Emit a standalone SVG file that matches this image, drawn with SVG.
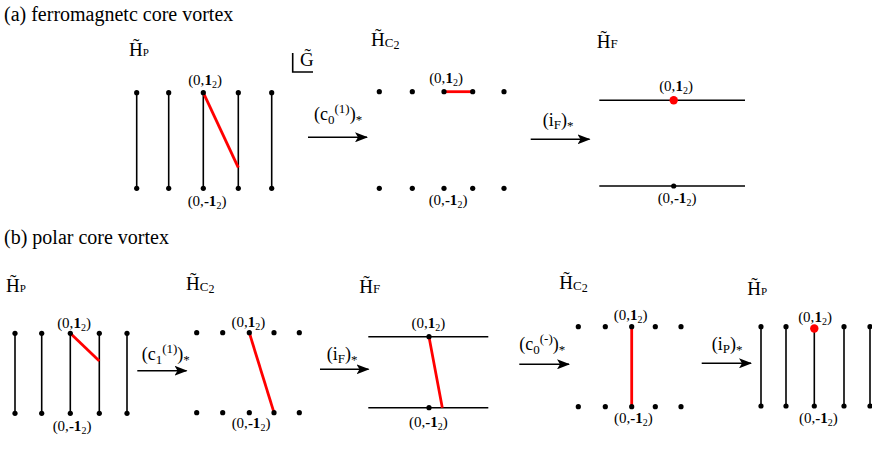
<svg xmlns="http://www.w3.org/2000/svg" width="872" height="458" viewBox="0 0 872 458" font-family="Liberation Serif, serif">
<defs>
<style>
.ln{stroke:#000;stroke-width:1.6;fill:none}
.red{stroke:#f00;stroke-width:2.8;fill:none}
.dot{fill:#000}
.arr{stroke:#000;stroke-width:1.6;fill:none;marker-end:url(#ah)}
</style>
<marker id="ah" markerUnits="userSpaceOnUse" markerWidth="14" markerHeight="10" refX="12" refY="5" orient="auto">
<path d="M0,0 L13,5 L0,10 L3,5 z" fill="#000"/>
</marker>
</defs>
<text font-family="Liberation Serif, serif" font-size="20" x="4" y="21">(a) ferromagnetc core vortex</text>
<text font-family="Liberation Serif, serif" font-size="20" x="4" y="244">(b) polar core vortex</text>

<g id="a-HP">
<text font-family="Liberation Serif, serif" font-size="19" x="129" y="56">H&#x0303;<tspan font-size="11">P</tspan></text>
<g class="ln">
<line x1="136.7" y1="92.7" x2="136.7" y2="188.3"/>
<line x1="168.7" y1="92.7" x2="168.7" y2="188.3"/>
<line x1="203.3" y1="92.7" x2="203.3" y2="188.3"/>
<line x1="238.3" y1="92.7" x2="238.3" y2="188.3"/>
<line x1="271.7" y1="92.7" x2="271.7" y2="188.3"/>
</g>
<line class="red" x1="203.3" y1="92.7" x2="238.3" y2="167.7"/>
<g class="dot">
<circle cx="136.7" cy="92.7" r="2.6"/><circle cx="168.7" cy="92.7" r="2.6"/><circle cx="203.3" cy="92.7" r="2.6"/><circle cx="238.3" cy="92.7" r="2.6"/><circle cx="271.7" cy="92.7" r="2.6"/>
<circle cx="136.7" cy="188.3" r="2.6"/><circle cx="168.7" cy="188.3" r="2.6"/><circle cx="203.3" cy="188.3" r="2.6"/><circle cx="238.3" cy="188.3" r="2.6"/><circle cx="271.7" cy="188.3" r="2.6"/>
</g>
<text font-family="Liberation Serif, serif" font-size="15" text-anchor="middle" x="205" y="85">(0,<tspan font-weight="bold">1</tspan><tspan font-size="10" dy="3">2</tspan><tspan dy="-3">)</tspan></text>
<text font-family="Liberation Serif, serif" font-size="15" text-anchor="middle" x="207" y="206">(0,<tspan font-weight="bold">-1</tspan><tspan font-size="10" dy="3">2</tspan><tspan dy="-3">)</tspan></text>
</g>

<g id="G">
<path class="ln" d="M292.7,53 V72 H313" stroke-width="1.3"/>
<text font-family="Liberation Serif, serif" font-size="19" x="300" y="66">G&#x0303;</text>
</g>

<g id="a-HC2">
<text font-family="Liberation Serif, serif" font-size="19" x="371" y="46">H&#x0303;<tspan font-size="13" dy="1">C</tspan><tspan font-size="12" dy="2">2</tspan></text>
<line class="red" x1="444" y1="91.7" x2="472.7" y2="91.7"/>
<g class="dot">
<circle cx="379.3" cy="91.7" r="2.6"/><circle cx="412.3" cy="91.7" r="2.6"/><circle cx="444" cy="91.7" r="2.6"/><circle cx="472.7" cy="91.7" r="2.6"/><circle cx="504" cy="91.7" r="2.6"/>
<circle cx="379.3" cy="188.3" r="2.6"/><circle cx="412.3" cy="188.3" r="2.6"/><circle cx="444" cy="188.3" r="2.6"/><circle cx="472.7" cy="188.3" r="2.6"/><circle cx="504" cy="188.3" r="2.6"/>
</g>
<text font-family="Liberation Serif, serif" font-size="15" text-anchor="middle" x="446" y="83">(0,<tspan font-weight="bold">1</tspan><tspan font-size="10" dy="3">2</tspan><tspan dy="-3">)</tspan></text>
<text font-family="Liberation Serif, serif" font-size="15" text-anchor="middle" x="448" y="205">(0,<tspan font-weight="bold">-1</tspan><tspan font-size="10" dy="3">2</tspan><tspan dy="-3">)</tspan></text>
</g>

<g id="a-HF">
<text font-family="Liberation Serif, serif" font-size="19" x="596.7" y="48">H&#x0303;<tspan font-size="13">F</tspan></text>
<line class="ln" x1="599.3" y1="100.3" x2="745" y2="100.3"/>
<line class="ln" x1="599.3" y1="186" x2="745" y2="186"/>
<circle cx="673.7" cy="100.3" r="4.2" fill="#f00"/>
<circle cx="673.7" cy="186" r="2.6" class="dot"/>
<text font-family="Liberation Serif, serif" font-size="15" text-anchor="middle" x="676" y="91">(0,<tspan font-weight="bold">1</tspan><tspan font-size="10" dy="3">2</tspan><tspan dy="-3">)</tspan></text>
<text font-family="Liberation Serif, serif" font-size="15" text-anchor="middle" x="677" y="203">(0,<tspan font-weight="bold">-1</tspan><tspan font-size="10" dy="3">2</tspan><tspan dy="-3">)</tspan></text>
</g>

<g id="b-HP">
<text font-family="Liberation Serif, serif" font-size="19" x="6" y="292">H&#x0303;<tspan font-size="11">P</tspan></text>
<g class="ln">
<line x1="15" y1="333.3" x2="15" y2="413.3"/>
<line x1="41.7" y1="333.3" x2="41.7" y2="413.3"/>
<line x1="70.3" y1="333.3" x2="70.3" y2="413.3"/>
<line x1="99.3" y1="333.3" x2="99.3" y2="413.3"/>
<line x1="127" y1="333.3" x2="127" y2="413.3"/>
</g>
<line class="red" x1="70.3" y1="333.3" x2="99.3" y2="361"/>
<g class="dot">
<circle cx="15" cy="333.3" r="2.6"/><circle cx="41.7" cy="333.3" r="2.6"/><circle cx="70.3" cy="333.3" r="2.6"/><circle cx="99.3" cy="333.3" r="2.6"/><circle cx="127" cy="333.3" r="2.6"/>
<circle cx="15" cy="413.3" r="2.6"/><circle cx="41.7" cy="413.3" r="2.6"/><circle cx="70.3" cy="413.3" r="2.6"/><circle cx="99.3" cy="413.3" r="2.6"/><circle cx="127" cy="413.3" r="2.6"/>
</g>
<text font-family="Liberation Serif, serif" font-size="15" text-anchor="middle" x="74" y="328">(0,<tspan font-weight="bold">1</tspan><tspan font-size="10" dy="3">2</tspan><tspan dy="-3">)</tspan></text>
<text font-family="Liberation Serif, serif" font-size="15" text-anchor="middle" x="72" y="431">(0,<tspan font-weight="bold">-1</tspan><tspan font-size="10" dy="3">2</tspan><tspan dy="-3">)</tspan></text>
</g>

<g id="b-HC2">
<text font-family="Liberation Serif, serif" font-size="19" x="186" y="290">H&#x0303;<tspan font-size="13" dy="1">C</tspan><tspan font-size="12" dy="2">2</tspan></text>
<line class="red" x1="249.3" y1="332.7" x2="274" y2="412.7"/>
<g class="dot">
<circle cx="196.7" cy="332.7" r="2.6"/><circle cx="222.7" cy="332.7" r="2.6"/><circle cx="249.3" cy="332.7" r="2.6"/><circle cx="274" cy="332.7" r="2.6"/><circle cx="299.3" cy="332.7" r="2.6"/>
<circle cx="196.7" cy="412.7" r="2.6"/><circle cx="222.7" cy="412.7" r="2.6"/><circle cx="249.3" cy="412.7" r="2.6"/><circle cx="274" cy="412.7" r="2.6"/><circle cx="299.3" cy="412.7" r="2.6"/>
</g>
<text font-family="Liberation Serif, serif" font-size="15" text-anchor="middle" x="248.3" y="327">(0,<tspan font-weight="bold">1</tspan><tspan font-size="10" dy="3">2</tspan><tspan dy="-3">)</tspan></text>
<text font-family="Liberation Serif, serif" font-size="15" text-anchor="middle" x="251" y="428">(0,<tspan font-weight="bold">-1</tspan><tspan font-size="10" dy="3">2</tspan><tspan dy="-3">)</tspan></text>
</g>

<g id="b-HF">
<text font-family="Liberation Serif, serif" font-size="19" x="359.3" y="293">H&#x0303;<tspan font-size="13">F</tspan></text>
<line class="ln" x1="368.3" y1="336.7" x2="488.3" y2="336.7"/>
<line class="ln" x1="368.3" y1="407.7" x2="488.3" y2="407.7"/>
<line class="red" x1="429" y1="336.7" x2="442.3" y2="407.7"/>
<circle cx="429" cy="336.7" r="2.6" class="dot"/>
<circle cx="429" cy="407.7" r="2.6" class="dot"/>
<text font-family="Liberation Serif, serif" font-size="15" text-anchor="middle" x="428.3" y="327.5">(0,<tspan font-weight="bold">1</tspan><tspan font-size="10" dy="3">2</tspan><tspan dy="-3">)</tspan></text>
<text font-family="Liberation Serif, serif" font-size="15" text-anchor="middle" x="428.3" y="427">(0,<tspan font-weight="bold">-1</tspan><tspan font-size="10" dy="3">2</tspan><tspan dy="-3">)</tspan></text>
</g>

<g id="b-HC2b">
<text font-family="Liberation Serif, serif" font-size="19" x="559.3" y="289">H&#x0303;<tspan font-size="13" dy="1">C</tspan><tspan font-size="12" dy="2">2</tspan></text>
<line class="red" x1="631.7" y1="326.7" x2="631.7" y2="406.7"/>
<g class="dot">
<circle cx="578.3" cy="326.7" r="2.6"/><circle cx="605.3" cy="326.7" r="2.6"/><circle cx="631.7" cy="326.7" r="2.6"/><circle cx="655.3" cy="326.7" r="2.6"/><circle cx="681" cy="326.7" r="2.6"/>
<circle cx="578.3" cy="406.7" r="2.6"/><circle cx="605.3" cy="406.7" r="2.6"/><circle cx="631.7" cy="406.7" r="2.6"/><circle cx="655.3" cy="406.7" r="2.6"/><circle cx="681" cy="406.7" r="2.6"/>
</g>
<text font-family="Liberation Serif, serif" font-size="15" text-anchor="middle" x="630.7" y="320">(0,<tspan font-weight="bold">1</tspan><tspan font-size="10" dy="3">2</tspan><tspan dy="-3">)</tspan></text>
<text font-family="Liberation Serif, serif" font-size="15" text-anchor="middle" x="633.3" y="423">(0,<tspan font-weight="bold">-1</tspan><tspan font-size="10" dy="3">2</tspan><tspan dy="-3">)</tspan></text>
</g>

<g id="b-HPb">
<text font-family="Liberation Serif, serif" font-size="19" x="747.3" y="295">H&#x0303;<tspan font-size="11">P</tspan></text>
<g class="ln">
<line x1="761" y1="326.7" x2="761" y2="406"/>
<line x1="786" y1="326.7" x2="786" y2="406"/>
<line x1="814.3" y1="326.7" x2="814.3" y2="406"/>
<line x1="844" y1="326.7" x2="844" y2="406"/>
<line x1="870" y1="326.7" x2="870" y2="406"/>
</g>
<g class="dot">
<circle cx="761" cy="326.7" r="2.6"/><circle cx="786" cy="326.7" r="2.6"/><circle cx="844" cy="326.7" r="2.6"/><circle cx="870" cy="326.7" r="2.6"/>
<circle cx="761" cy="406" r="2.6"/><circle cx="786" cy="406" r="2.6"/><circle cx="814.3" cy="406" r="2.6"/><circle cx="844" cy="406" r="2.6"/><circle cx="870" cy="406" r="2.6"/>
</g>
<circle cx="814.3" cy="328.5" r="4.2" fill="#f00"/>
<text font-family="Liberation Serif, serif" font-size="15" text-anchor="middle" x="815" y="321.5">(0,<tspan font-weight="bold">1</tspan><tspan font-size="10" dy="3">2</tspan><tspan dy="-3">)</tspan></text>
<text font-family="Liberation Serif, serif" font-size="15" text-anchor="middle" x="818.3" y="423">(0,<tspan font-weight="bold">-1</tspan><tspan font-size="10" dy="3">2</tspan><tspan dy="-3">)</tspan></text>
</g>

<g id="connectors">
<line class="arr" x1="308" y1="137.3" x2="367" y2="137.3"/>
<text font-family="Liberation Serif, serif" font-size="18" x="314" y="120">(c<tspan font-size="13" dy="4">0</tspan><tspan font-size="13" dy="-11">(1)</tspan><tspan dy="7">)</tspan><tspan font-size="13" dy="4">*</tspan></text>
<line class="arr" x1="530.7" y1="139.3" x2="589.5" y2="139.3"/>
<text font-family="Liberation Serif, serif" font-size="18" x="542.7" y="126">(i<tspan font-size="13" dy="3">F</tspan><tspan dy="-3">)</tspan><tspan font-size="13" dy="4">*</tspan></text>
<line class="arr" x1="137.3" y1="370.7" x2="186.5" y2="370.7"/>
<text font-family="Liberation Serif, serif" font-size="18" x="141.7" y="360">(c<tspan font-size="13" dy="4">1</tspan><tspan font-size="13" dy="-11">(1)</tspan><tspan dy="7">)</tspan><tspan font-size="13" dy="4">*</tspan></text>
<line class="arr" x1="320" y1="369.3" x2="368.5" y2="369.3"/>
<text font-family="Liberation Serif, serif" font-size="18" x="326.7" y="360">(i<tspan font-size="13" dy="3">F</tspan><tspan dy="-3">)</tspan><tspan font-size="13" dy="4">*</tspan></text>
<line class="arr" x1="519.3" y1="364.3" x2="569" y2="364.3"/>
<text font-family="Liberation Serif, serif" font-size="18" x="519.3" y="350">(c<tspan font-size="13" dy="4">0</tspan><tspan font-size="13" dy="-11">(-)</tspan><tspan dy="7">)</tspan><tspan font-size="13" dy="4">*</tspan></text>
<line class="arr" x1="701.7" y1="363.3" x2="751" y2="363.3"/>
<text font-family="Liberation Serif, serif" font-size="18" x="711.7" y="350">(i<tspan font-size="13" dy="3">P</tspan><tspan dy="-3">)</tspan><tspan font-size="13" dy="4">*</tspan></text>
</g>
</svg>
